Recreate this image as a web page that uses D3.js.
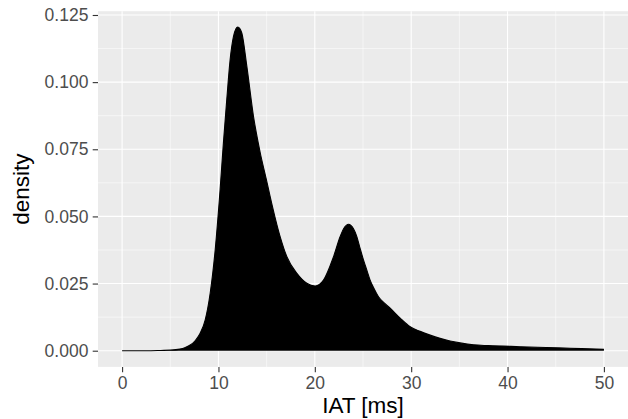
<!DOCTYPE html>
<html>
<head>
<meta charset="utf-8">
<script src="https://cdn.jsdelivr.net/npm/d3@7"></script>
<style>
  html, body { margin: 0; padding: 0; background: #fff; }
  svg { display: block; }
  text { font-family: "Liberation Sans", Arial, sans-serif; }
</style>
</head>
<body>
<svg id="chart" width="628" height="419"></svg>
<script>
// ---- data ----
const iat = [0, 1, 2, 3, 4, 5, 6, 6.5, 7.07, 7.6, 8.1, 8.62, 9.14, 9.66, 10.17, 10.51, 10.86,
  11.21, 11.56, 11.8, 12.01, 12.2, 12.43, 12.95, 13.63, 14.33, 15.02, 15.36, 16.4, 17.1, 18.14,
  19.17, 20.04, 20.9, 21.94, 22.63, 23.0, 23.5, 24.0, 24.36, 24.7, 25.05, 25.4, 25.74, 26.09,
  26.61, 27.2, 27.82, 28.86, 29.9, 30.93, 31.97, 33.0, 34.04, 35.08, 36.47, 38, 41.3, 44, 46.5, 50];
const density = [0.0000, 0.0000, 0.0000, 0.0000, 0.0001, 0.0002, 0.0006, 0.0011, 0.0021, 0.0038,
  0.0065, 0.0114, 0.0214, 0.0375, 0.0599, 0.0772, 0.0934, 0.1083, 0.1170, 0.1198, 0.1205, 0.1200,
  0.1182, 0.1058, 0.0874, 0.0738, 0.0630, 0.0575, 0.0425, 0.0350, 0.0288, 0.0251, 0.0241, 0.0263,
  0.0350, 0.0425, 0.0455, 0.0471, 0.0455, 0.0425, 0.0381, 0.0338, 0.0300, 0.0263, 0.0235, 0.0201,
  0.0178, 0.0158, 0.0121, 0.0089, 0.0072, 0.0058, 0.0046, 0.0036, 0.0029, 0.0022, 0.0019, 0.0015,
  0.0012, 0.0009, 0.0005];
const xTicks = [0, 10, 20, 30, 40, 50];
const xMinor = [5, 15, 25, 35, 45];
const yTicks = [0, 0.025, 0.05, 0.075, 0.1, 0.125];
const yMinor = [0.0125, 0.0375, 0.0625, 0.0875, 0.1125];
const xTitle = "IAT [ms]";
const yTitle = "density";

// ---- layout ----
const panel = { left: 98, right: 628, top: 11.2, bottom: 366.9 };
const x = d3.scaleLinear().domain([-2.5, 52.5]).range([panel.left, panel.right]);
const y = d3.scaleLinear().domain([-0.00603, 0.12641]).range([panel.bottom, panel.top]);

const svg = d3.select("#chart");

svg.append("rect")
  .attr("x", panel.left).attr("y", panel.top)
  .attr("width", panel.right - panel.left).attr("height", panel.bottom - panel.top)
  .attr("fill", "#EBEBEB");

const grid = svg.append("g");
grid.selectAll(".xmin").data(xMinor).enter().append("line")
  .attr("x1", d => x(d)).attr("x2", d => x(d))
  .attr("y1", panel.top).attr("y2", panel.bottom)
  .attr("stroke", "#fff").attr("stroke-width", 0.55);
grid.selectAll(".ymin").data(yMinor).enter().append("line")
  .attr("y1", d => y(d)).attr("y2", d => y(d))
  .attr("x1", panel.left).attr("x2", panel.right)
  .attr("stroke", "#fff").attr("stroke-width", 0.55);
grid.selectAll(".xmaj").data(xTicks).enter().append("line")
  .attr("x1", d => x(d)).attr("x2", d => x(d))
  .attr("y1", panel.top).attr("y2", panel.bottom)
  .attr("stroke", "#fff").attr("stroke-width", 1.1);
grid.selectAll(".ymaj").data(yTicks).enter().append("line")
  .attr("y1", d => y(d)).attr("y2", d => y(d))
  .attr("x1", panel.left).attr("x2", panel.right)
  .attr("stroke", "#fff").attr("stroke-width", 1.1);

// ---- density area ----
const pts = iat.map((v, i) => ({ x: v, y: density[i] }));
const area = d3.area().x(d => x(d.x)).y0(y(0)).y1(d => y(d.y)).curve(d3.curveMonotoneX);
const line = d3.line().x(d => x(d.x)).y(d => y(d.y)).curve(d3.curveMonotoneX);
svg.append("path").datum(pts).attr("d", area).attr("fill", "#000");
svg.append("path").datum(pts).attr("d", line)
  .attr("fill", "none").attr("stroke", "#000").attr("stroke-width", 1.1);

// ---- axes ----
const fmt = d3.format(".3f");
const yAxis = svg.append("g").attr("transform", `translate(${panel.left},0)`)
  .call(d3.axisLeft(y).tickValues(yTicks).tickFormat(fmt).tickSize(5.3).tickPadding(4.3));
const xAxis = svg.append("g").attr("transform", `translate(0,${panel.bottom})`)
  .call(d3.axisBottom(x).tickValues(xTicks).tickFormat(d3.format("d")).tickSize(5.3).tickPadding(4.3));
[yAxis, xAxis].forEach(a => {
  a.select(".domain").remove();
  a.selectAll(".tick line").attr("stroke", "#333333").attr("stroke-width", 1.1);
  a.selectAll(".tick text").attr("fill", "#4D4D4D")
    .style("font-size", "17.5px").style("font-family", '"Liberation Sans", Arial, sans-serif');
});

svg.append("text")
  .attr("x", (panel.left + panel.right) / 2).attr("y", 412.5)
  .attr("text-anchor", "middle").attr("fill", "#000")
  .style("font-size", "22.5px").text(xTitle);
svg.append("text")
  .attr("transform", `translate(29,${(panel.top + panel.bottom) / 2}) rotate(-90)`)
  .attr("text-anchor", "middle").attr("fill", "#000")
  .style("font-size", "22.5px").text(yTitle);
</script>
</body>
</html>
